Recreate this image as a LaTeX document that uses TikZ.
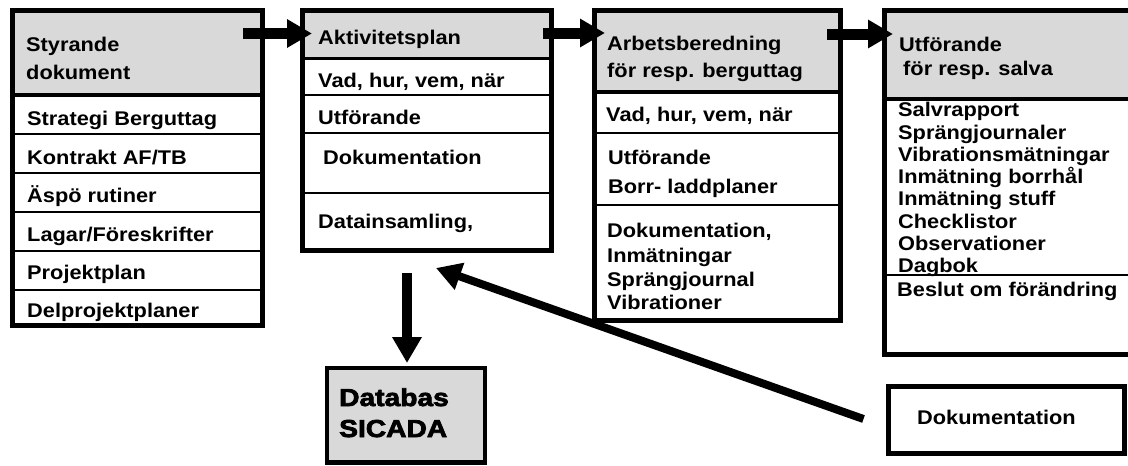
\documentclass[tikz,border=0pt]{standalone}
\usepackage{fontspec}
\setmainfont{Liberation Sans}[FakeStretch=1.1]
\newfontfamily\dbfamily{Liberation Sans}[FakeStretch=1.15, BoldFeatures={FakeBold=3}]
\usetikzlibrary{arrows.meta,calc,backgrounds}
\definecolor{hdrgray}{RGB}{217,217,217}

\begin{document}
\begin{tikzpicture}[x=1pt,y=-1pt,
  box/.style={draw, line width=5pt, inner sep=0pt, outer sep=0pt},
  septhick/.style={line width=4pt},
  septhin/.style={line width=2pt},
  txt/.style={anchor=base west, inner sep=0pt, font=\fontsize{19.8}{22}\selectfont\bfseries},
  dbtxt/.style={anchor=base west, inner sep=0pt, font=\dbfamily\bfseries\fontsize{24.5}{30}\selectfont},
  bigarrow/.style={line width=11pt, -{Triangle[length=25pt,width=27pt]}},
  diagarrow/.style={line width=8pt, -{Triangle[length=25pt,width=27pt]}},
]
\useasboundingbox (0,0) rectangle (1128,466);

% main process boxes
\node[box, minimum width=250pt, minimum height=315pt]   (styr) at (137.5,168)    {};
\node[box, minimum width=249pt, minimum height=239.5pt] (akt)  at (427,130.25)   {};
\node[box, minimum width=246pt, minimum height=310pt]   (arb)  at (717.5,165.5)  {};
\node[box, minimum width=255.5pt, minimum height=344pt] (utf)  at (1012.25,182.5){};
\node[box, fill=hdrgray, line width=4.5pt, minimum width=158pt, minimum height=94.5pt] (db) at (406,415.25) {};
\node[box, minimum width=236pt, minimum height=67pt]    (dok)  at (1006.5,420)   {};

% grey headers
\begin{scope}[on background layer]
  \fill[hdrgray] (styr.north west) rectangle (styr.east |- 0,95);
  \fill[hdrgray] (akt.north west)  rectangle (akt.east |- 0,58.5);
  \fill[hdrgray] (arb.north west)  rectangle (arb.east |- 0,91.5);
  \fill[hdrgray] (utf.north west)  rectangle (utf.east |- 0,98.5);
\end{scope}

% row separators
\draw[septhick] (styr.west |- 0,95) -- (styr.east |- 0,95);
\foreach \y in {134,172.5,211.5,251,290}
  \draw[septhin] (styr.west |- 0,\y) -- (styr.east |- 0,\y);
\draw[line width=3pt] (akt.west |- 0,58.5) -- (akt.east |- 0,58.5);
\foreach \y in {95,132.5,193}
  \draw[septhin] (akt.west |- 0,\y) -- (akt.east |- 0,\y);
\draw[septhick] (arb.west |- 0,91.5) -- (arb.east |- 0,91.5);
\foreach \y in {132.5,205}
  \draw[septhin] (arb.west |- 0,\y) -- (arb.east |- 0,\y);
\draw[septhick] (utf.west |- 0,98.5) -- (utf.east |- 0,98.5);
\draw[septhin] (utf.west |- 0,275) -- (utf.east |- 0,275);

% texts: Styrande dokument
\node[txt] (s0) at (26,51) {Styrande};
\node[txt] (s1) at (26,79) {dokument};
\foreach \t/\y [count=\i] in {{Strategi Berguttag}/125.5, {Kontrakt AF/TB}/164, {Äspö rutiner}/202.5,
    {Lagar/Föreskrifter}/241, {Projektplan}/279.5, {Delprojektplaner}/317.5}
  \node[txt] (sr\i) at (27,\y) {\t};

% texts: Aktivitetsplan
\node[txt] (a0) at (318,44.5) {Aktivitetsplan};
\node[txt] (a1) at (318,87.5) {Vad, hur, vem, när};
\node[txt] (a2) at (318,124.5) {Utförande};
\node[txt] (a3) at (323,164.5) {Dokumentation};
\node[txt] (a4) at (318,228.5) {Datainsamling,};

% texts: Arbetsberedning
\node[txt] (b0) at (607,50.5) {Arbetsberedning};
\node[txt] (b1) at (607,77.5) {för resp. berguttag};
\node[txt] (b2) at (606,121.5) {Vad, hur, vem, när};
\node[txt] (b3) at (608,164.5) {Utförande};
\node[txt] (b4) at (608,193) {Borr- laddplaner};
\node[txt] (b5) at (607,237.5) {Dokumentation,};
\node[txt] (b6) at (607,262) {Inmätningar};
\node[txt] (b7) at (607,286) {Sprängjournal};
\node[txt] (b8) at (607,309.5) {Vibrationer};

% texts: Utförande för resp. salva
\node[txt] (u0) at (899,51.5) {Utförande};
\node[txt] (u1) at (903,75) {för resp. salva};
\foreach \t/\y [count=\i] in {{Salvrapport}/116.5, {Sprängjournaler}/139, {Vibrationsmätningar}/161.5,
    {Inmätning borrhål}/183.5, {Inmätning stuff}/205.5, {Checklistor}/228, {Observationer}/250.5, {Dagbok}/272.5}
  \node[txt] (ur\i) at (898,\y) {\t};
\node[txt] (u9) at (897,296.5) {Beslut om förändring};

% database and documentation
\node[dbtxt] (db1) at (339,406) {Databas};
\node[dbtxt] (db2) at (339,437) {SICADA};
\node[txt] (dk) at (917,424) {Dokumentation};

% flow arrows
\draw[bigarrow] ($(styr.north east)+(-19.5,23)$) -- ($(akt.north west)+(9.5,23)$);
\draw[bigarrow] ($(akt.north east)+(-8.5,22.5)$) -- ($(arb.north west)+(10.5,22.5)$);
\draw[bigarrow] ($(arb.north east)+(-13.5,23.5)$) -- ($(utf.north west)+(8.5,23.5)$);
\draw[line width=10pt, -{Triangle[length=26pt,width=28pt]}]
  ($(akt.south)+(-20,23)$) -- ($(db.north)+(1,-5)$);
\draw[diagarrow] ($(dok.west)+(-25,-1)$) -- ($(akt.south)+(9,18)$);
\end{tikzpicture}
\end{document}
